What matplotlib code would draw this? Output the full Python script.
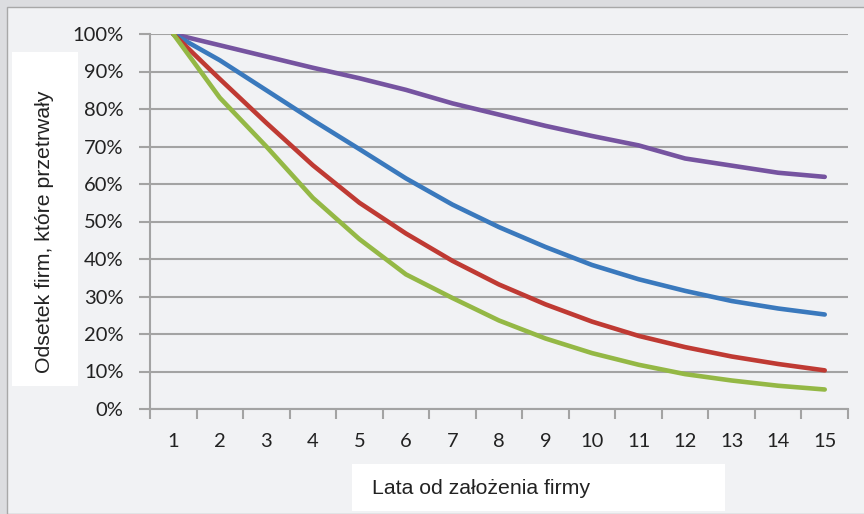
import matplotlib
matplotlib.use('Agg')
import matplotlib.pyplot as plt
from matplotlib.patches import Rectangle
from matplotlib.ticker import FixedLocator, PercentFormatter

# dane
lata = list(range(1, 16))
fiolet = [100, 97, 94, 91, 88.2, 85.1, 81.5, 78.5, 75.5, 72.8, 70.3, 66.8, 64.9, 63, 61.9]
niebieski = [100, 93, 85, 77, 69.3, 61.5, 54.5, 48.5, 43.2, 38.4, 34.6, 31.5, 28.8, 26.8, 25.2]
czerwony = [100, 88, 76.3, 65, 55, 46.8, 39.5, 33.2, 27.9, 23.3, 19.5, 16.5, 14, 12, 10.3]
zielony = [100, 83, 70, 56.3, 45.3, 35.9, 29.6, 23.6, 18.8, 14.9, 11.8, 9.3, 7.6, 6.2, 5.2]

W, H = 864, 514
BG = '#f1f2f4'
GRID = '#a3a3a3'

fig = plt.figure(figsize=(W / 100, H / 100), dpi=100, facecolor='#dcdde0')
fig.patches.append(Rectangle((7 / W, 0), 1, (H - 7) / H, transform=fig.transFigure,
                             facecolor=BG, edgecolor='#a8a8a8', linewidth=1, zorder=-10))

ax = fig.add_axes([150 / W, 105 / H, 698 / W, 375 / H])
ax.set_zorder(2)
ax.set_facecolor(BG)

for y, c in [(fiolet, '#7654a0'), (niebieski, '#3a79bd'), (czerwony, '#bf3a33'), (zielony, '#94b845')]:
    ax.plot(lata, [v / 100 for v in y], color=c, linewidth=3.3,
            solid_capstyle='round', solid_joinstyle='round', zorder=3)

ax.set_xlim(0.5, 15.5)
ax.set_ylim(0, 1)
ax.yaxis.set_major_locator(FixedLocator([i / 10 for i in range(11)]))
ax.yaxis.set_major_formatter(PercentFormatter(1.0, decimals=0))
ax.grid(axis='y', color=GRID, linewidth=1.5, zorder=1)

ax.xaxis.set_major_locator(FixedLocator([i + 0.5 for i in range(0, 16)]))
ax.xaxis.set_minor_locator(FixedLocator(lata))
ax.set_xticklabels([])
ax.set_xticklabels([str(v) for v in lata], minor=True)

for s in ['top', 'right']:
    ax.spines[s].set_visible(False)
for s in ['left', 'bottom']:
    ax.spines[s].set_color(GRID)
    ax.spines[s].set_linewidth(1.5)

ax.tick_params(axis='y', length=8, width=1.5, color=GRID, pad=11,
               labelsize=14.5, labelcolor='#222222')
ax.tick_params(axis='x', which='major', length=7, width=1.5, color=GRID)
ax.tick_params(axis='x', which='minor', length=0, pad=17, labelsize=14.5, labelcolor='#222222')
for lab in ax.get_yticklabels() + ax.get_xticklabels(minor=True):
    lab.set_fontfamily('Lato')

# białe pola z opisami osi
fig.patches.append(Rectangle((12 / W, (H - 386) / H), 66 / W, 334 / H,
                             transform=fig.transFigure, facecolor='white', edgecolor='none', zorder=1))
fig.patches.append(Rectangle((352 / W, (H - 511) / H), 373 / W, 47 / H,
                             transform=fig.transFigure, facecolor='white', edgecolor='none', zorder=1))

fig.text(45 / W, 1 - 232 / H, 'Odsetek firm, które przetrwały', rotation=90,
         ha='center', va='center', fontsize=15.3, family='Liberation Sans', color='#222222')
fig.text(372 / W, 1 - 488 / H, 'Lata od założenia firmy', ha='left', va='center',
         fontsize=15.3, family='Liberation Sans', color='#222222')

fig.savefig('out.png', dpi=100, facecolor=fig.get_facecolor())
